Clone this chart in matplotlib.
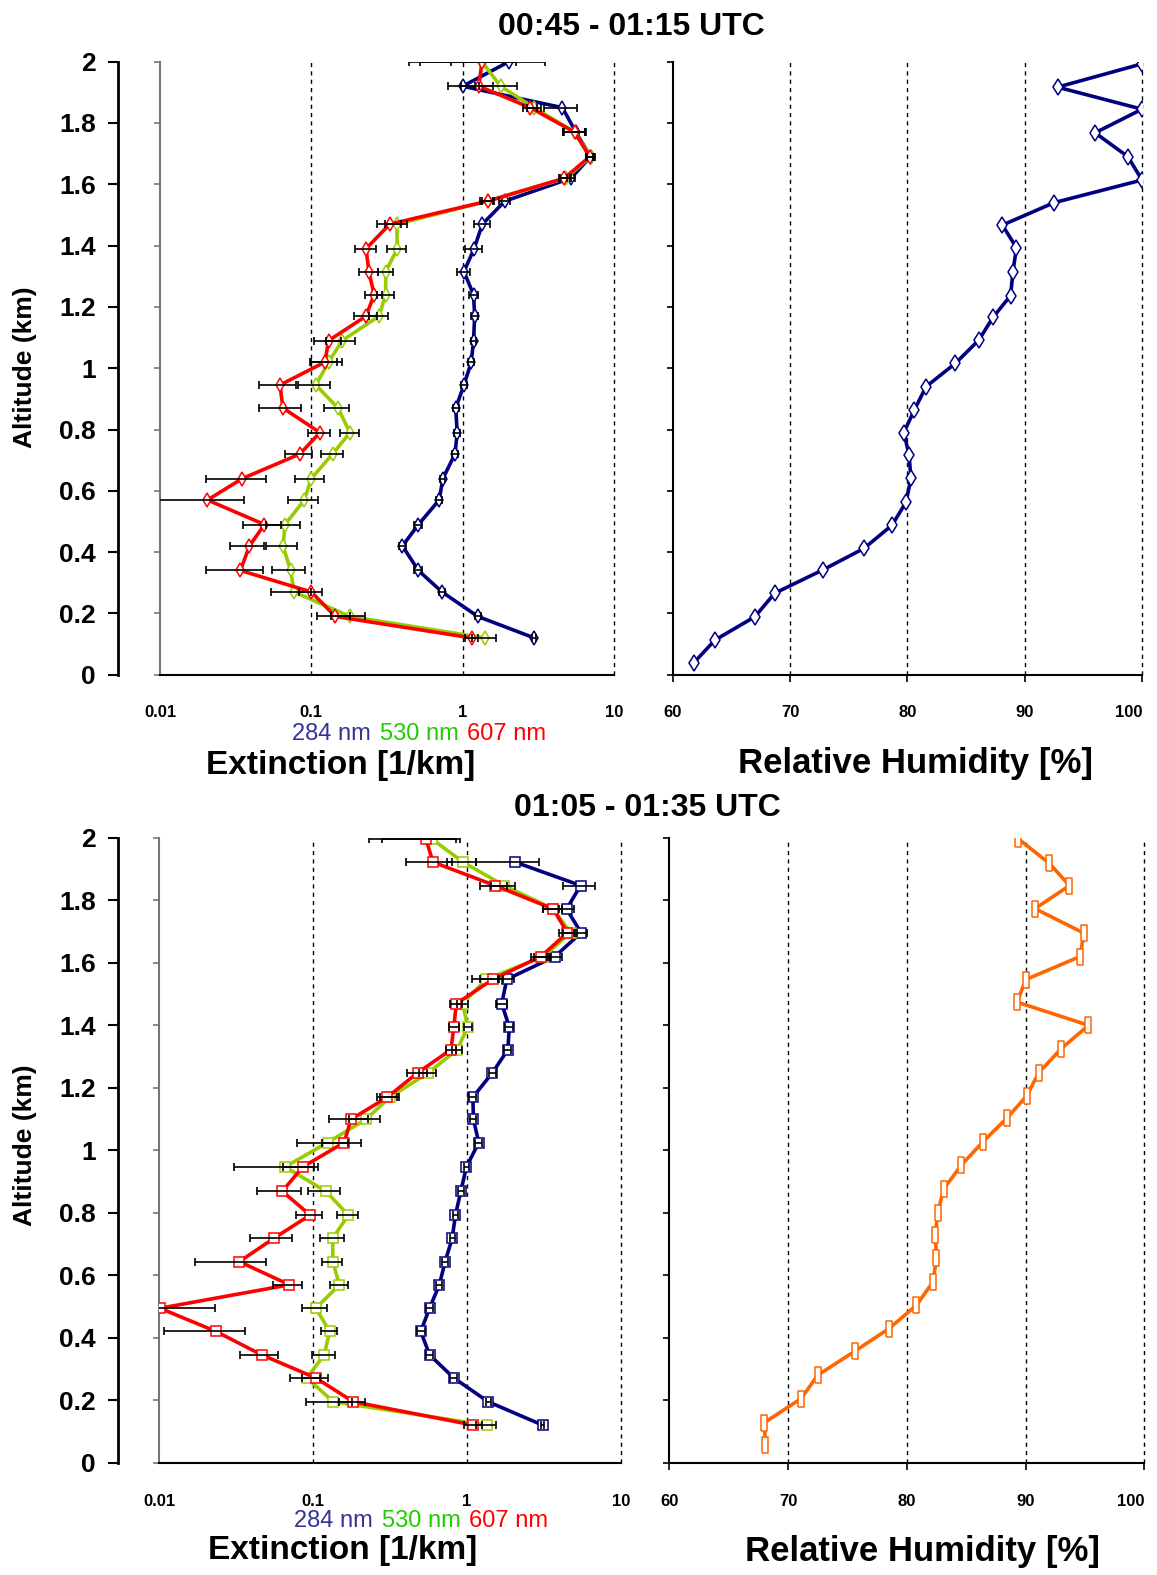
import numpy as np
import matplotlib
matplotlib.use('Agg')
import matplotlib.pyplot as plt
from matplotlib.ticker import NullLocator
from matplotlib.path import Path
from matplotlib.offsetbox import TextArea, HPacker, AnnotationBbox

W, H = 1157, 1575
plt.rcParams['font.family'] = ['Liberation Sans', 'DejaVu Sans']

#### Data: top profile (00:45 - 01:15 UTC) ####
alt_top = [0.12, 0.19, 0.27, 0.34, 0.42, 0.49, 0.57, 0.64, 0.72, 0.79, 0.87, 0.945, 1.02,
           1.09, 1.17, 1.24, 1.315, 1.39, 1.47, 1.545, 1.62, 1.69, 1.77, 1.85, 1.92, 2.0]
blue_top = [2.97, 1.26, 0.73, 0.51, 0.40, 0.51, 0.70, 0.74, 0.89, 0.92, 0.90, 1.02, 1.14,
            1.18, 1.20, 1.18, 1.02, 1.19, 1.35, 1.9, 5.2, 7.0, 5.6, 4.56, 1.0, 2.02]
blue_top_err = [0.08, 0.06, 0.03, 0.03, 0.02, 0.03, 0.03, 0.03, 0.04, 0.04, 0.04, 0.05, 0.05,
                0.05, 0.06, 0.08, 0.1, 0.15, 0.17, 0.15, 0.3, 0.4, 0.9, 1.1, 0.2, 1.5]
green_top = [1.4, 0.18, 0.077, 0.073, 0.065, 0.067, 0.09, 0.1, 0.138, 0.18, 0.15, 0.107, 0.13,
             0.16, 0.28, 0.31, 0.31, 0.37, 0.367, 1.46, 4.8, 7.0, 5.5, 2.97, 1.78, 1.34]
green_top_err = [0.25, 0.045, 0.023, 0.018, 0.015, 0.017, 0.02, 0.022, 0.023, 0.025, 0.028, 0.025, 0.03,
                 0.035, 0.04, 0.04, 0.035, 0.055, 0.06, 0.15, 0.4, 0.5, 0.9, 0.3, 0.5, 0.5]
red_top = [1.15, 0.144, 0.1, 0.034, 0.039, 0.049, 0.0206, 0.035, 0.084, 0.114, 0.065, 0.062, 0.123,
           0.13, 0.23, 0.26, 0.24, 0.23, 0.33, 1.46, 4.7, 6.9, 5.5, 2.8, 1.28, 1.34]
red_top_err = [0.12, 0.035, 0.017, 0.014, 0.01, 0.0136, 0.0155, 0.015, 0.017, 0.019, 0.02, 0.017, 0.025,
               0.026, 0.04, 0.035, 0.035, 0.037, 0.06, 0.12, 0.4, 0.4, 0.9, 0.3, 0.3, 0.9]

rh_alt_top = [0.039, 0.113, 0.189, 0.266, 0.342, 0.412, 0.488, 0.564, 0.641, 0.717, 0.79, 0.864, 0.94,
              1.016, 1.092, 1.166, 1.237, 1.315, 1.393, 1.467, 1.54, 1.614, 1.69, 1.768, 1.845, 1.917, 1.993]
rh_top = [61.8, 63.6, 67.0, 68.7, 72.8, 76.3, 78.7, 79.9, 80.3, 80.15, 79.7, 80.6, 81.6,
          84.1, 86.1, 87.3, 88.8, 89.0, 89.3, 88.1, 92.5, 100, 98.8, 96.0, 100, 92.8, 100]

#### Data: bottom profile (01:05 - 01:35 UTC) ####
alt_bot = [0.121, 0.196, 0.272, 0.346, 0.421, 0.495, 0.57, 0.644, 0.719, 0.793, 0.869, 0.947, 1.025,
           1.099, 1.17, 1.248, 1.322, 1.394, 1.469, 1.547, 1.62, 1.696, 1.772, 1.847, 1.922, 1.996]
blue_bot = [3.1, 1.37, 0.82, 0.57, 0.50, 0.57, 0.66, 0.72, 0.80, 0.84, 0.91, 0.99, 1.19,
            1.10, 1.09, 1.46, 1.84, 1.88, 1.68, 1.81, 3.72, 5.5, 4.43, 5.47, 2.05, np.nan]
blue_bot_err = [0.08, 0.05, 0.04, 0.03, 0.03, 0.03, 0.03, 0.03, 0.03, 0.03, 0.04, 0.04, 0.06,
                0.05, 0.06, 0.08, 0.1, 0.12, 0.15, 0.2, 0.4, 0.5, 0.5, 1.3, 0.9, np.nan]
green_bot = [1.34, 0.135, 0.091, 0.118, 0.128, 0.104, 0.148, 0.134, 0.134, 0.169, 0.121, 0.0656, 0.124,
             0.22, 0.315, 0.56, 0.86, 1.01, 0.935, 1.33, 3.13, 4.71, 3.63, 1.74, 0.94, 0.59]
green_bot_err = [0.2, 0.045, 0.02, 0.02, 0.015, 0.019, 0.02, 0.02, 0.024, 0.027, 0.029, 0.035, 0.045,
                 0.05, 0.045, 0.07, 0.06, 0.06, 0.08, 0.25, 0.4, 0.5, 0.5, 0.3, 0.2, 0.31]
red_bot = [1.1, 0.182, 0.104, 0.0462, 0.0233, 0.0101, 0.07, 0.0331, 0.0556, 0.0955, 0.063, 0.0855, 0.159,
           0.176, 0.303, 0.477, 0.785, 0.82, 0.85, 1.47, 3.02, 4.48, 3.63, 1.52, 0.60, 0.54]
red_bot_err = [0.15, 0.035, 0.02, 0.013, 0.0126, 0.013, 0.015, 0.016, 0.017, 0.018, 0.02, 0.022, 0.045,
               0.05, 0.045, 0.07, 0.06, 0.06, 0.08, 0.25, 0.4, 0.5, 0.5, 0.3, 0.2, 0.31]

rh_alt_bot = [0.057, 0.129, 0.206, 0.281, 0.357, 0.43, 0.504, 0.579, 0.655, 0.729, 0.799, 0.876, 0.953,
              1.027, 1.102, 1.174, 1.248, 1.325, 1.4, 1.474, 1.546, 1.62, 1.695, 1.773, 1.847, 1.918, 1.996]
rh_bot = [68.1, 68.0, 71.1, 72.5, 75.6, 78.5, 80.8, 82.2, 82.5, 82.4, 82.6, 83.1, 84.6,
          86.4, 88.4, 90.1, 91.1, 93.0, 95.3, 89.3, 90.0, 94.6, 94.9, 90.8, 93.7, 92.0, 89.4]

#### Axis labels ####
alt_ticks = [0, 0.2, 0.4, 0.6, 0.8, 1.0, 1.2, 1.4, 1.6, 1.8, 2.0]
alt_labels = ['0', '0.2', '0.4', '0.6', '0.8', '1', '1.2', '1.4', '1.6', '1.8', '2']
ext_ticks = [0.01, 0.1, 1, 10]
ext_labels = ['0.01', '0.1', '1', '10']
rh_ticks = [60, 70, 80, 90, 100]
rh_labels = ['60', '70', '80', '90', '100']
titles = ['00:45 - 01:15 UTC', '01:05 - 01:35 UTC']

BLUE = '#000080'
GREEN = '#99cc00'
RED = '#ff0000'
ORANGE = '#ff6600'
narrow = dict(family=['Liberation Sans', 'DejaVu Sans'], fontweight='bold', fontsize=12)

# tall rectangle marker for the bottom humidity profile
tall_rect = Path([(-0.45, -1), (0.45, -1), (0.45, 1), (-0.45, 1), (-0.45, -1)])

fig = plt.figure(figsize=(W / 100, H / 100), dpi=100)


def px_axes(left, top, right, bottom):
    return fig.add_axes([left / W, 1 - bottom / H, (right - left) / W, (bottom - top) / H])


def ftext(x, y, s, **kw):
    fig.text(x / W, 1 - y / H, s, ha='center', va='center', **kw)


def ext_panel(ax, alts, series, marker, msize, outer_px):
    ax.set_xscale('log')
    ax.set_xlim(0.01, 10)
    ax.set_ylim(0, 2)
    for gx in [0.1, 1, 10]:
        ax.axvline(gx, color='black', lw=1, ls=(0, (3, 3)), zorder=1, clip_on=False)
    for vals, errs, col in series:
        ax.plot(vals, alts, color=col, lw=2.6, marker=marker, ms=msize, mfc='white',
                mec=col, mew=1.1, zorder=3)
        ax.errorbar(vals, alts, xerr=errs, fmt='none', ecolor='black', elinewidth=1.2,
                    capsize=3, capthick=1.2, zorder=4)
    for s in ['top', 'right']:
        ax.spines[s].set_visible(False)
    ax.spines['left'].set_color('#777777')
    ax.spines['left'].set_linewidth(1.5)
    ax.spines['bottom'].set_linewidth(1.5)
    ax.set_yticks(alt_ticks)
    ax.tick_params(axis='y', direction='out', length=4, width=1.2, color='#777777', labelleft=False)
    ax.set_xticks(ext_ticks)
    ax.set_xticklabels(ext_labels, **narrow)
    ax.xaxis.set_minor_locator(NullLocator())
    ax.tick_params(axis='x', length=0, pad=22)
    # outer altitude scale
    sec = ax.secondary_yaxis(outer_px)
    sec.set_yticks(alt_ticks, alt_labels, fontsize=19, fontweight='bold')
    sec.tick_params(length=7, width=1.5, pad=9)
    sec.spines['left'].set_linewidth(2)


def rh_panel(ax, alts, vals, col, marker, msize):
    ax.set_xlim(60, 100)
    ax.set_ylim(0, 2)
    for gx in [70, 80, 90, 100]:
        ax.axvline(gx, color='black', lw=1, ls=(0, (3, 3)), zorder=1, clip_on=False)
    ax.plot(vals, alts, color=col, lw=2.6, marker=marker, ms=msize, mfc='white',
            mec=col, mew=1.1, zorder=3)
    for s in ['top', 'right']:
        ax.spines[s].set_visible(False)
    ax.spines['left'].set_linewidth(1.5)
    ax.spines['bottom'].set_linewidth(1.5)
    ax.set_yticks(alt_ticks)
    ax.tick_params(axis='y', direction='out', length=4, width=1.2, labelleft=False)
    ax.set_xticks(rh_ticks)
    ax.set_xticklabels(rh_labels, **narrow)
    ax.tick_params(axis='x', direction='out', length=5, width=1.2, pad=17)
    # keep the last label inside the figure
    ax.get_xticklabels()[-1].set_horizontalalignment('right')
    ax.get_xticklabels()[-1].set_x(100.6)


def colour_legend(x, y):
    parts = [TextArea(s, textprops=dict(color=c, fontsize=17))
             for s, c in [('284 nm', '#333399'), ('530 nm', '#22cc00'), ('607 nm', RED)]]
    box = HPacker(children=parts, sep=6, pad=0)
    ab = AnnotationBbox(box, (x / W, 1 - y / H), xycoords='figure fraction', frameon=False,
                        box_alignment=(0.5, 0.5))
    fig.add_artist(ab)


#### Top row ####
ax1 = px_axes(160, 61.7, 614, 674.7)
ext_panel(ax1, alt_top, [(blue_top, blue_top_err, BLUE), (green_top, green_top_err, GREEN),
                         (red_top, red_top_err, RED)], 'd', 7.5, (118 - 160) / 454)
ax2 = px_axes(672.7, 61.7, 1142, 674.7)
rh_panel(ax2, rh_alt_top, rh_top, BLUE, 'd', 8)

#### Bottom row ####
ax3 = px_axes(159.3, 837.7, 621, 1463)
ext_panel(ax3, alt_bot, [(blue_bot, blue_bot_err, BLUE), (green_bot, green_bot_err, GREEN),
                         (red_bot, red_bot_err, RED)], 's', 7, (118 - 159.3) / 461.7)
ax4 = px_axes(669.3, 837.7, 1144.3, 1463)
rh_panel(ax4, rh_alt_bot, rh_bot, ORANGE, tall_rect, 11)

#### Texts ####
ftext(631, 27, titles[0], fontsize=23, fontweight='bold')
ftext(647, 808, titles[1], fontsize=23, fontweight='bold')
colour_legend(419, 734)
colour_legend(421, 1521)
ftext(341, 765, 'Extinction [1/km]', fontsize=24, fontweight='bold')
ftext(343, 1551, 'Extinction [1/km]', fontsize=24, fontweight='bold')
ftext(916, 763, 'Relative Humidity [%]', fontsize=25, fontweight='bold')
ftext(922, 1551, 'Relative Humidity [%]', fontsize=25, fontweight='bold')
ftext(25, 367, 'Altitude (km)', fontsize=19, fontweight='bold', rotation=90)
ftext(25, 1145, 'Altitude (km)', fontsize=19, fontweight='bold', rotation=90)

fig.savefig('out.png', dpi=100)
